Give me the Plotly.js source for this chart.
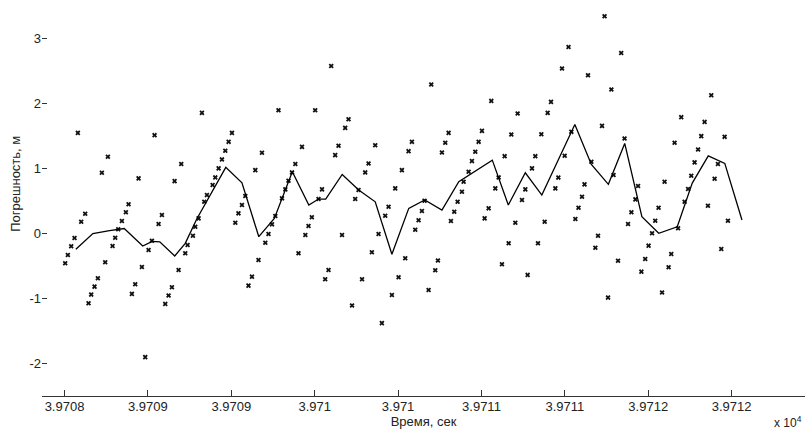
<!DOCTYPE html>
<html>
<head>
<meta charset="utf-8">
<script src="https://cdn.plot.ly/plotly-3.0.1.min.js"></script>
<style>
html,body{margin:0;padding:0;background:#fff;}
#chart{width:805px;height:430px;}
</style>
</head>
<body>
<div id="chart"></div>
<script>
// Time axis values (seconds) of the individual error samples
const markerTime = [
39708.004, 39708.020, 39708.040, 39708.060, 39708.080, 39708.100, 39708.124, 39708.144, 39708.160, 39708.180,
39708.200, 39708.224, 39708.244, 39708.260, 39708.288, 39708.304, 39708.322, 39708.344, 39708.368, 39708.384,
39708.404, 39708.424, 39708.444, 39708.464, 39708.484, 39708.504, 39708.524, 39708.540, 39708.564, 39708.584,
39708.604, 39708.624, 39708.644, 39708.660, 39708.684, 39708.700, 39708.724, 39708.738, 39708.770, 39708.784,
39708.804, 39708.824, 39708.838, 39708.854, 39708.888, 39708.904, 39708.924, 39708.944, 39708.964, 39708.984,
39709.004, 39709.024, 39709.043, 39709.064, 39709.084, 39709.103, 39709.124, 39709.144, 39709.163, 39709.184,
39709.204, 39709.223, 39709.244, 39709.264, 39709.283, 39709.304, 39709.324, 39709.343, 39709.364, 39709.384,
39709.403, 39709.424, 39709.444, 39709.463, 39709.483, 39709.503, 39709.523, 39709.544, 39709.563, 39709.583,
39709.599, 39709.623, 39709.643, 39709.664, 39709.683, 39709.703, 39709.724, 39709.743, 39709.763, 39709.784,
39709.803, 39709.823, 39709.843, 39709.863, 39709.883, 39709.903, 39709.923, 39709.943, 39709.963, 39709.983,
39710.003, 39710.023, 39710.043, 39710.063, 39710.083, 39710.103, 39710.123, 39710.143, 39710.159, 39710.183,
39710.199, 39710.223, 39710.239, 39710.263, 39710.283, 39710.303, 39710.317, 39710.337, 39710.357, 39710.383,
39710.393, 39710.423, 39710.443, 39710.463, 39710.483, 39710.503, 39710.519, 39710.543, 39710.559, 39710.583,
39710.603, 39710.623, 39710.639, 39710.663, 39710.679, 39710.703, 39710.717, 39710.743, 39710.763, 39710.777,
39710.803, 39710.823, 39710.839, 39710.859, 39710.879, 39710.897, 39710.917, 39710.943, 39710.961, 39710.983,
39710.999, 39711.022, 39711.039, 39711.063, 39711.082, 39711.103, 39711.118, 39711.139, 39711.159, 39711.183,
39711.199, 39711.223, 39711.238, 39711.259, 39711.279, 39711.292, 39711.319, 39711.338, 39711.358, 39711.379,
39711.399, 39711.423, 39711.439, 39711.459, 39711.482, 39711.502, 39711.523, 39711.542, 39711.562, 39711.583,
39711.598, 39711.622, 39711.638, 39711.658, 39711.679, 39711.698, 39711.718, 39711.739, 39711.758, 39711.778,
39711.799, 39711.818, 39711.838, 39711.858, 39711.878, 39711.898, 39711.918, 39711.938, 39711.958, 39711.978
];

// Error of each sample, metres
const markerError = [
-0.458, -0.330, -0.197, -0.069, 1.548, 0.181, 0.304, -1.072, -0.940, -0.817,
-0.688, 0.934, -0.442, 1.180, -0.192, -0.065, 0.065, 0.192, 0.326, 0.449,
-0.929, -0.780, 0.848, -0.515, -1.902, -0.253, -0.111, 1.513, 0.146, 0.284,
-1.083, -0.955, -0.826, 0.806, -0.561, 1.068, -0.304, -0.177, -0.034, 0.104,
0.233, 1.856, 0.488, 0.591, 0.745, 0.863, 1.002, 1.140, 1.272, 1.410,
1.548, 0.166, 0.310, 0.438, 0.576, -0.802, -0.664, 0.975, -0.407, 1.241,
-0.141, -0.008, 0.141, 0.269, 1.897, 0.541, 0.679, 0.811, 0.940, 1.068,
-0.304, 1.333, -0.023, 0.115, 0.249, 1.897, 0.530, 0.679, -0.704, -0.561,
2.578, 1.206, 1.349, -0.023, 1.625, 1.759, -1.109, 0.530, 0.668, -0.704,
0.940, 1.078, -0.289, 1.359, -0.008, -1.379, 0.273, 0.412, -0.945, 0.694,
-0.673, 0.975, -0.381, 1.267, 1.410, 0.058, 0.203, 0.346, 0.504, -0.868,
2.292, -0.565, -0.415, 1.247, 1.395, 1.548, 0.192, 0.335, 0.488, 0.642,
0.796, 0.949, 1.114, 1.257, 1.410, 1.579, 0.233, 0.387, 2.040, 0.694,
0.863, -0.473, 1.190, -0.151, 1.524, 0.166, 1.846, 0.515, 0.679, -0.637,
1.002, 1.190, -0.151, 1.528, 0.181, 1.856, 2.025, 0.694, 0.860, 2.538,
1.195, 2.869, 1.564, 0.223, 0.396, 0.565, 0.756, 2.435, 1.103, -0.218,
-0.034, 1.656, 3.341, -0.986, 2.215, 0.899, -0.418, 2.777, 1.462, 0.146,
0.326, 0.525, 0.730, -0.587, -0.392, -0.187, 0.003, 0.197, 0.396, -0.909,
0.796, -0.519, -0.315, 1.395, 0.080, 1.790, 0.488, 0.684, 0.888, 1.094,
1.293, 1.498, 1.717, 0.427, 2.127, 0.842, 1.068, -0.238, 1.487, 0.197
];

// Averaged error curve
const lineTime = [
39708.068, 39708.170, 39708.270, 39708.358, 39708.469, 39708.526, 39708.571, 39708.661, 39708.724, 39708.793,
39708.967, 39709.064, 39709.165, 39709.258, 39709.366, 39709.465, 39709.523, 39709.566, 39709.665, 39709.764,
39709.863, 39709.963, 39710.064, 39710.160, 39710.263, 39710.364, 39710.565, 39710.661, 39710.763, 39710.862,
39711.060, 39711.159, 39711.261, 39711.359, 39711.462, 39711.563, 39711.674, 39711.764, 39711.860, 39711.959,
39712.062
];
const lineError = [
-0.243, 0.000, 0.043, 0.077, -0.192, -0.120, -0.127, -0.346, -0.151, 0.223,
1.017, 0.780, -0.049, 0.233, 0.949, 0.438, 0.530, 0.530, 0.909, 0.668,
0.488, -0.320, 0.387, 0.515, 0.361, 0.796, 1.129, 0.438, 0.934, 0.591,
1.677, 1.063, 0.756, 1.386, 0.258, 0.003, 0.104, 0.776, 1.195, 1.078,
0.207
];

// Tick values and labels
const xTickVals = [39708, 39708.5, 39709, 39709.5, 39710, 39710.5, 39711, 39711.5, 39712];
const xTickText = ['3.9708', '3.9709', '3.9709', '3.971', '3.971', '3.9711', '3.9711', '3.9712', '3.9712'];
const yTickVals = [-2, -1, 0, 1, 2, 3];
const yTickText = ['-2', '-1', '0', '1', '2', '3'];

const xTitle = 'Время, сек';
const yTitle = 'Погрешность, м';
const xExponent = 'x 10<sup>4</sup>';

const FONT = 'Liberation Sans, Arial, Helvetica, sans-serif';

const traces = [
  {
    x: markerTime, y: markerError, type: 'scatter', mode: 'markers',
    marker: {symbol: 'x', size: 4.5, color: '#111'},
    hoverinfo: 'skip'
  },
  {
    x: lineTime, y: lineError, type: 'scatter', mode: 'lines',
    line: {color: '#000', width: 1.3},
    hoverinfo: 'skip'
  }
];

const layout = {
  width: 805, height: 430,
  margin: {l: 42, r: 0, t: 6, b: 34, pad: 0},
  paper_bgcolor: '#fff', plot_bgcolor: '#fff',
  showlegend: false,
  font: {family: FONT, size: 13, color: '#222'},
  xaxis: {
    range: [39707.865, 39712.44],
    tickvals: xTickVals, ticktext: xTickText,
    ticks: 'inside', ticklen: 6, tickwidth: 1, tickcolor: '#333',
    ticklabelstandoff: -2,
    showline: true, linecolor: '#333', linewidth: 1,
    showgrid: false, zeroline: false,
    tickfont: {family: FONT, size: 13, color: '#222'},
    title: {text: xTitle, font: {family: FONT, size: 13, color: '#222'}, standoff: 1},
    automargin: false
  },
  yaxis: {
    range: [-2.5, 3.5],
    tickvals: yTickVals, ticktext: yTickText,
    ticks: 'inside', ticklen: 5, tickwidth: 1, tickcolor: '#333',
    showline: false, showgrid: false, zeroline: false,
    tickfont: {family: FONT, size: 13, color: '#222'},
    automargin: false
  },
  annotations: [
    {
      text: yTitle, textangle: -90, showarrow: false,
      xref: 'paper', yref: 'paper', x: -0.035, y: 0.545,
      xanchor: 'center', yanchor: 'middle',
      font: {family: FONT, size: 13, color: '#222'}
    },
    {
      text: xExponent, showarrow: false,
      xref: 'paper', yref: 'paper', x: 0.999, y: -0.066,
      xanchor: 'right', yanchor: 'middle',
      font: {family: FONT, size: 12, color: '#222'}
    }
  ]
};

Plotly.newPlot('chart', traces, layout, {staticPlot: true, displayModeBar: false});
</script>
</body>
</html>
